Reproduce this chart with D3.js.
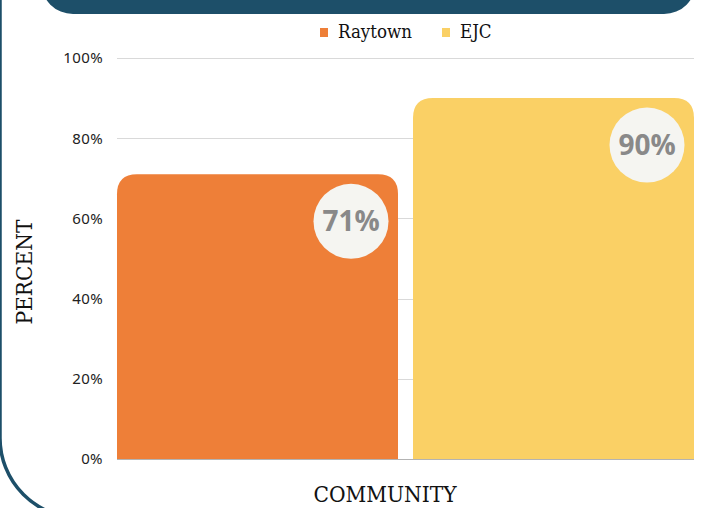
<!DOCTYPE html>
<html>
<head>
<meta charset="utf-8">
<script src="https://cdn.jsdelivr.net/npm/d3@7/dist/d3.min.js"></script>
<style>
  html, body { margin: 0; padding: 0; background: #ffffff; }
  svg { display: block; }
</style>
</head>
<body>
<svg id="chart" width="703" height="508"></svg>
<script>
// ---- data ----
const categories = ["COMMUNITY"];
const seriesNames = ["Raytown", "EJC"];
const seriesValues = [71, 90];
const yTickValues = [0, 20, 40, 60, 80, 100];
const yTickLabels = ["0%", "20%", "40%", "60%", "80%", "100%"];
const yAxisTitle = "PERCENT";

// ---- layout / style ----
const W = 703, H = 508;
const plot = { left: 117, right: 694, top: 58, bottom: 459 };
const slab = "'DejaVu Serif Condensed', 'DejaVu Serif', serif";
const sans = "'Noto Sans', 'Open Sans', sans-serif";

const svg = d3.select("#chart");

// frame: outer rounded border & top banner
svg.append("rect")
  .attr("x", 0).attr("y", -200)
  .attr("width", 900).attr("height", 718)
  .attr("rx", 80).attr("ry", 80)
  .attr("fill", "none")
  .attr("stroke", "#1d4f69")
  .attr("stroke-width", 3.5);

svg.append("rect")
  .attr("x", 41).attr("y", -60)
  .attr("width", 655).attr("height", 74)
  .attr("rx", 32).attr("ry", 32)
  .attr("fill", "#1d4f69");

// scales
const x = d3.scaleBand()
  .domain(seriesNames)
  .range([plot.left, plot.right])
  .paddingInner(15 / 296)
  .paddingOuter(0);

const y = d3.scaleLinear()
  .domain([0, 100])
  .range([plot.bottom, plot.top]);

const color = d3.scaleOrdinal()
  .domain(seriesNames)
  .range(["#ee7f38", "#fad065"]);

// gridlines
svg.append("g")
  .selectAll("line")
  .data(yTickValues.filter(d => d > 0))
  .join("line")
  .attr("x1", plot.left).attr("x2", plot.right)
  .attr("y1", d => Math.round(y(d)) + 0.5)
  .attr("y2", d => Math.round(y(d)) + 0.5)
  .attr("stroke", "#d9d9d9")
  .attr("stroke-width", 1);

// y axis labels (using d3 axis, no domain/tick lines)
const yAxis = d3.axisLeft(y)
  .tickValues(yTickValues)
  .tickFormat((d, i) => yTickLabels[i])
  .tickSize(0)
  .tickPadding(14);

const gy = svg.append("g")
  .attr("transform", `translate(${plot.left},0)`)
  .call(yAxis);
gy.select(".domain").remove();
gy.selectAll("text")
  .attr("font-family", sans)
  .attr("font-size", 15)
  .attr("letter-spacing", 0.4)
  .attr("fill", "#222");

// bars with rounded top corners
function topRoundedBar(x0, y0, w, h, r) {
  r = Math.min(r, w / 2, h);
  return `M${x0},${y0 + h}` +
    `V${y0 + r}` +
    `Q${x0},${y0} ${x0 + r},${y0}` +
    `H${x0 + w - r}` +
    `Q${x0 + w},${y0} ${x0 + w},${y0 + r}` +
    `V${y0 + h}Z`;
}

const barData = seriesNames.map((s, i) => ({ name: s, value: seriesValues[i] }));

svg.append("g")
  .selectAll("path")
  .data(barData)
  .join("path")
  .attr("d", d => topRoundedBar(x(d.name), y(d.value), x.bandwidth(), y(0) - y(d.value), 20))
  .attr("fill", d => color(d.name));

// baseline
svg.append("line")
  .attr("x1", plot.left).attr("x2", plot.right)
  .attr("y1", y(0) + 0.5).attr("y2", y(0) + 0.5)
  .attr("stroke", "#b3b3b3")
  .attr("stroke-width", 1);

// value badges
const badge = svg.append("g")
  .selectAll("g")
  .data(barData)
  .join("g")
  .attr("transform", d => `translate(${x(d.name) + x.bandwidth() - 47},${y(d.value) + 47})`);

badge.append("circle")
  .attr("r", 37.5)
  .attr("fill", "#f5f5f1");

badge.append("text")
  .attr("text-anchor", "middle")
  .attr("dy", "0.36em")
  .attr("font-family", "'Open Sans', sans-serif")
  .attr("font-weight", 700)
  .attr("font-size", 28)
  .attr("fill", "#898989")
  .text(d => d.value + "%");

// legend
const legendItems = [
  { name: seriesNames[0], sx: 320, tx: 338 },
  { name: seriesNames[1], sx: 442, tx: 460 }
];
const lg = svg.append("g")
  .selectAll("g")
  .data(legendItems)
  .join("g");
lg.append("rect")
  .attr("x", d => d.sx).attr("y", 28)
  .attr("width", 8).attr("height", 9)
  .attr("fill", d => color(d.name));
lg.append("text")
  .attr("x", d => d.tx).attr("y", 38)
  .attr("font-family", slab)
  .attr("font-size", 18.5)
  .attr("fill", "#111")
  .text(d => d.name);

// axis titles
svg.append("text")
  .attr("x", 385)
  .attr("y", 502)
  .attr("text-anchor", "middle")
  .attr("font-family", slab)
  .attr("font-size", 22.5)
  .attr("fill", "#111")
  .text(categories[0]);

svg.append("text")
  .attr("transform", `translate(32,272) rotate(-90)`)
  .attr("text-anchor", "middle")
  .attr("font-family", slab)
  .attr("font-size", 22.5)
  .attr("fill", "#111")
  .text(yAxisTitle);
</script>
</body>
</html>
